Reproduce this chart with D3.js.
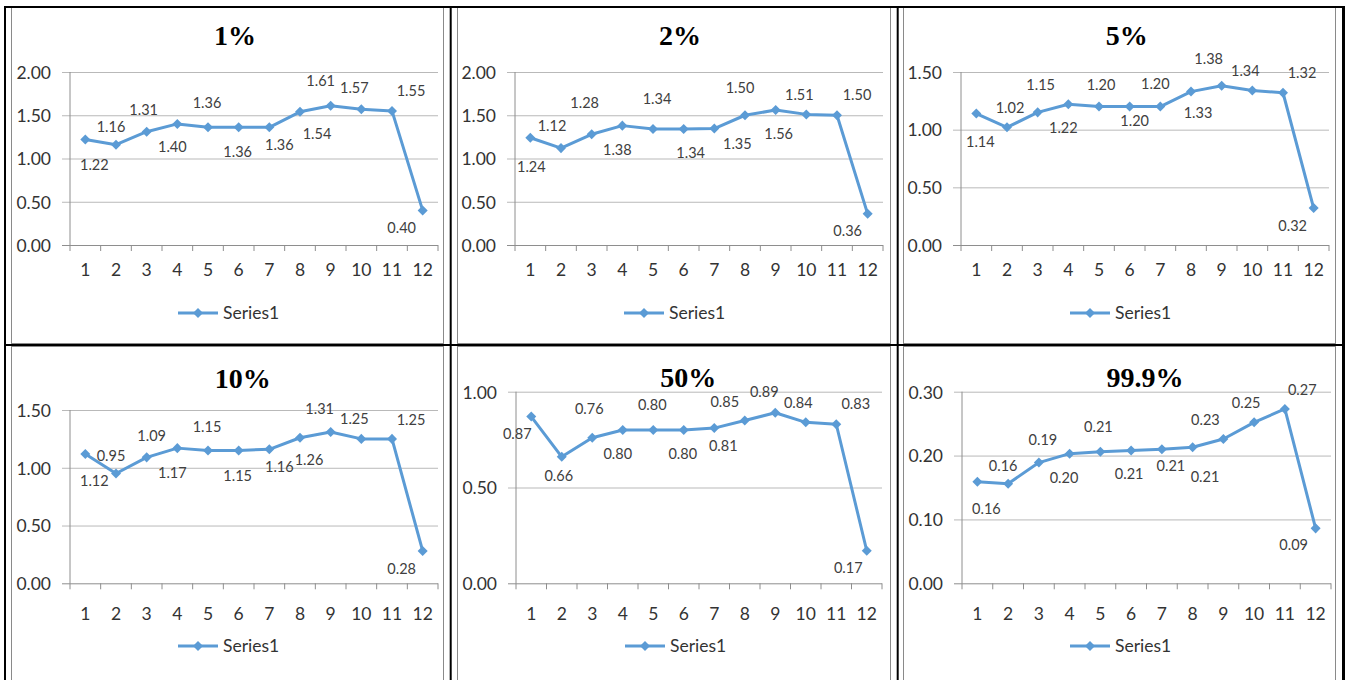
<!DOCTYPE html>
<html>
<head>
<meta charset="utf-8">
<script src="https://cdn.jsdelivr.net/npm/d3@7"></script>
<style>
  body { margin: 0; background: #fff; }
  svg { display: block; }
  text { font-family: Lato, "Open Sans", sans-serif; }
  .title { font-family: "Liberation Serif", "Times New Roman", serif; font-weight: bold; }
</style>
</head>
<body>
<svg id="chart" width="1351" height="680"></svg>
<script>
// ---- data ----
const categories = [1, 2, 3, 4, 5, 6, 7, 8, 9, 10, 11, 12];
const titles = ["1%", "2%", "5%", "10%", "50%", "99.9%"];
const seriesName = "Series1";

const values1 = [1.22, 1.16, 1.31, 1.40, 1.36, 1.36, 1.36, 1.54, 1.61, 1.57, 1.55, 0.40];
const values2 = [1.24, 1.12, 1.28, 1.38, 1.34, 1.34, 1.346, 1.50, 1.56, 1.51, 1.50, 0.36];
const values5 = [1.14, 1.02, 1.15, 1.22, 1.20, 1.20, 1.20, 1.33, 1.38, 1.34, 1.32, 0.32];
const values10 = [1.12, 0.95, 1.09, 1.17, 1.15, 1.15, 1.16, 1.26, 1.31, 1.25, 1.25, 0.28];
const values50 = [0.87, 0.66, 0.76, 0.80, 0.80, 0.80, 0.81, 0.85, 0.89, 0.84, 0.83, 0.17];
const values999 = [0.159, 0.156, 0.189, 0.203, 0.206, 0.208, 0.210, 0.213, 0.226, 0.252, 0.273, 0.086];

const yTicks200 = [0, 0.5, 1.0, 1.5, 2.0];
const yTicks150 = [0, 0.5, 1.0, 1.5];
const yTicks100 = [0, 0.5, 1.0];
const yTicks030 = [0, 0.1, 0.2, 0.3];

// ---- data-label placement (offset of each label centre from its point) ----
const labelShift1 = [[9,25],[-5,-18],[-3,-22],[-5,23],[-1,-25],[-1,24],[10,17],[17,21.5],[-10,-25],[-7,-21],[19,-20.6],[-21,17]];
const labelShift2 = [[1,29],[-9,-22],[-7,-31.6],[-5,24.4],[4,-30],[7,23.6],[23,15],[-5,-27.6],[3,24],[-7,-20],[20,-20],[-20,17]];
const labelShift5 = [[4,28],[3,-20],[3,-28],[-5,23],[2,-21.6],[5,14.4],[-5,-22.6],[7,21],[-13,-27],[-7,-19.5],[19,-20],[-21,17.6]];
const labelShift10 = [[9,27],[-5,-17.5],[5,-22],[-5,25],[-1,-24],[-1,25],[10,17.5],[9,22],[-11,-23.6],[-7,-20.5],[19,-19.5],[-21,17.4]];
const labelShift50 = [[-14,17],[-3,19],[-3,-29],[-5,24],[-1,-25.6],[-1,24],[9,18],[-20,-19],[-11,-21],[-7.5,-19.6],[19.5,-20],[-18.5,16.6]];
const labelShift999 = [[9,26.6],[-5,-17.6],[4,-23],[-5.6,24],[-2,-25],[-2,23.6],[9,17],[12.4,30],[-18,-19.6],[-8,-19.6],[17.4,-19],[-22,16.6]];

// ---- layout of the six chart cells ----
const panels = [
  { values: values1,   ticks: yTicks200, shift: labelShift1,   frame: [11.5, 7.5, 443.5, 343.5],  plot: [70, 72, 438, 245],        title: [235, 36],      legend: [178, 313], xLabelGap: 25 },
  { values: values2,   ticks: yTicks200, shift: labelShift2,   frame: [457.5, 7.5, 890.5, 343.5], plot: [515, 72, 883, 245],       title: [680, 36],      legend: [624, 313], xLabelGap: 25 },
  { values: values5,   ticks: yTicks150, shift: labelShift5,   frame: [903.5, 7.5, 1335.5, 343.5],plot: [961, 72, 1329, 245],      title: [1126.7, 36],   legend: [1070, 313], xLabelGap: 25 },
  { values: values10,  ticks: yTicks150, shift: labelShift10,  frame: [11.5, 346.5, 443.5, 700],  plot: [70, 410, 438, 583.3],     title: [242.7, 378.3], legend: [178, 646], xLabelGap: 30 },
  { values: values50,  ticks: yTicks100, shift: labelShift50,  frame: [457.5, 346.5, 890.5, 700], plot: [516, 391.7, 882, 583.3],  title: [688.3, 378],   legend: [625, 646], xLabelGap: 30 },
  { values: values999, ticks: yTicks030, shift: labelShift999, frame: [903.5, 346.5, 1335.5, 700],plot: [962, 391.7, 1331, 583.3], title: [1145, 378],    legend: [1070, 646], xLabelGap: 30 }
];

const LINE = "#5B9BD5";
const GRID = "#B9B9B9";
const AXIS = "#8E8E8E";
const fmt = d3.format(".2f");

const svg = d3.select("#chart");
svg.append("rect").attr("width", 1351).attr("height", 680).attr("fill", "#fff");

const diamond = d3.symbol().type(d3.symbolDiamond2).size(64);

panels.forEach((p, i) => {
  const g = svg.append("g");
  const [fx0, fy0, fx1, fy1] = p.frame;
  g.append("rect")
    .attr("x", fx0).attr("y", fy0)
    .attr("width", fx1 - fx0).attr("height", fy1 - fy0)
    .attr("fill", "#fff").attr("stroke", "#8a8a8a").attr("stroke-width", 1);

  const [x0, y0, x1, y1] = p.plot;
  const x = d3.scaleBand().domain(categories).range([x0, x1]).padding(0);
  const y = d3.scaleLinear().domain([0, d3.max(p.ticks)]).range([y1, y0]);

  // horizontal gridlines + y tick labels
  const yAxis = d3.axisLeft(y)
    .tickValues(p.ticks)
    .tickFormat(fmt)
    .tickSizeInner(-(x1 - x0 + 8))
    .tickSizeOuter(0)
    .tickPadding(11);
  const ya = g.append("g").attr("transform", `translate(${x0 - 8},0)`).call(yAxis);
  ya.select(".domain").remove();
  ya.selectAll(".tick line").attr("stroke", d => d === 0 ? AXIS : GRID).attr("stroke-width", 1);
  ya.selectAll(".tick text")
    .attr("fill", "#333").attr("font-size", 17.5)
    .attr("font-family", "Lato, sans-serif").attr("dy", "0.36em");

  // vertical axis line
  g.append("line")
    .attr("x1", x0).attr("x2", x0).attr("y1", y0).attr("y2", y1)
    .attr("stroke", AXIS).attr("stroke-width", 1);

  // category boundaries on the x axis
  const bounds = categories.map(c => x(c)).concat([x1]);
  g.selectAll(".xtick").data(bounds).join("line")
    .attr("x1", d => d).attr("x2", d => d)
    .attr("y1", y1).attr("y2", y1 + 6)
    .attr("stroke", AXIS).attr("stroke-width", 1);

  // category labels
  const xAxis = d3.axisBottom(x).tickSize(0).tickPadding(0);
  const xa = g.append("g").attr("transform", `translate(0,${y1 + p.xLabelGap})`).call(xAxis);
  xa.select(".domain").remove();
  xa.selectAll(".tick text")
    .attr("fill", "#333").attr("font-size", 17.5)
    .attr("font-family", "Lato, sans-serif").attr("dy", "0.36em");

  // series line and markers
  const pts = categories.map((c, k) => ({ c, v: p.values[k], s: p.shift[k] }));
  const cx = d => x(d.c) + x.bandwidth() / 2;
  g.append("path").datum(pts)
    .attr("fill", "none").attr("stroke", LINE).attr("stroke-width", 3)
    .attr("stroke-linejoin", "round")
    .attr("d", d3.line().x(cx).y(d => y(d.v)));
  g.selectAll(".marker").data(pts).join("path")
    .attr("transform", d => `translate(${cx(d)},${y(d.v)})`)
    .attr("d", diamond).attr("fill", LINE);

  // data labels
  g.selectAll(".dlabel").data(pts).join("text")
    .attr("x", d => cx(d) + d.s[0])
    .attr("y", d => y(d.v) + d.s[1])
    .attr("dy", "0.36em")
    .attr("text-anchor", "middle")
    .attr("font-size", 14.5)
    .attr("fill", "#404040")
    .text(d => fmt(d.v));

  // title
  g.append("text").attr("class", "title")
    .attr("x", p.title[0]).attr("y", p.title[1]).attr("dy", "0.33em")
    .attr("text-anchor", "middle").attr("font-size", 28).attr("fill", "#000")
    .text(titles[i]);

  // legend
  const [lx, ly] = p.legend;
  g.append("line").attr("x1", lx).attr("x2", lx + 40).attr("y1", ly).attr("y2", ly)
    .attr("stroke", LINE).attr("stroke-width", 3);
  g.append("path").attr("transform", `translate(${lx + 20},${ly})`).attr("d", diamond).attr("fill", LINE);
  g.append("text").attr("x", lx + 45).attr("y", ly).attr("dy", "0.36em")
    .attr("font-size", 17.5).attr("fill", "#333").text(seriesName);
});

// table rules
const rules = svg.append("g").attr("stroke", "#000");
rules.append("line").attr("x1", 4).attr("x2", 1345).attr("y1", 7).attr("y2", 7).attr("stroke-width", 2);
rules.append("line").attr("x1", 4).attr("x2", 1345).attr("y1", 345).attr("y2", 345).attr("stroke-width", 2);
rules.append("line").attr("x1", 5).attr("x2", 5).attr("y1", 6).attr("y2", 680).attr("stroke-width", 2);
rules.append("line").attr("x1", 450.7).attr("x2", 450.7).attr("y1", 6).attr("y2", 680).attr("stroke-width", 2);
rules.append("line").attr("x1", 897.7).attr("x2", 897.7).attr("y1", 6).attr("y2", 680).attr("stroke-width", 2);
rules.append("line").attr("x1", 1343.5).attr("x2", 1343.5).attr("y1", 6).attr("y2", 680).attr("stroke-width", 3);
</script>
</body>
</html>
